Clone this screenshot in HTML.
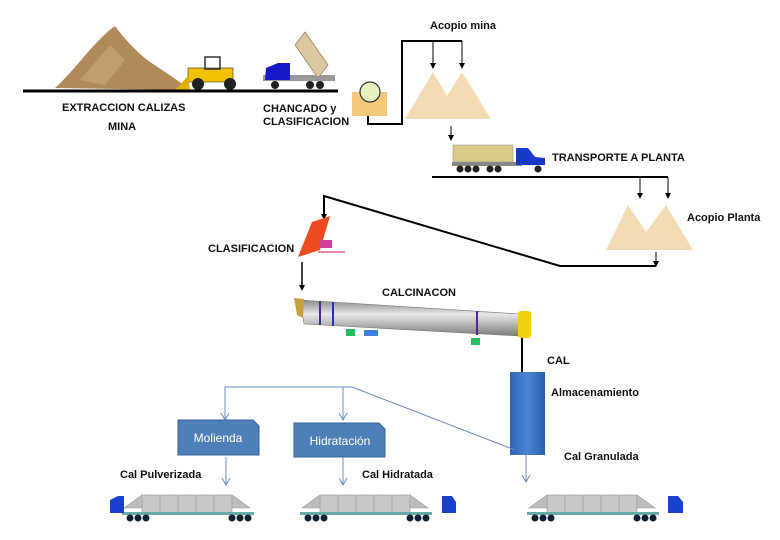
<!DOCTYPE html>
<html><head><meta charset="utf-8"><style>
html,body{margin:0;padding:0;background:#fff;}
svg{display:block;}
text{font-family:"Liberation Sans",Arial,sans-serif;font-weight:bold;font-size:11px;fill:#111;}
</style></head><body>
<svg width="780" height="540" viewBox="0 0 780 540" xmlns="http://www.w3.org/2000/svg">
<defs>
<linearGradient id="kiln" x1="0" y1="0" x2="0" y2="1"><stop offset="0" stop-color="#8a8a8a"/><stop offset="0.4" stop-color="#e8e8e8"/><stop offset="1" stop-color="#7a7a7a"/></linearGradient>
<linearGradient id="tank" x1="0" y1="0" x2="1" y2="0"><stop offset="0" stop-color="#2c64b8"/><stop offset="0.5" stop-color="#4a86d4"/><stop offset="1" stop-color="#2a5ea8"/></linearGradient>
<g id="tanker">
<rect x="20" y="5" width="90" height="18" fill="#c8c8c8" stroke="#999" stroke-width="0.6"/>
<path d="M20,5 L2,18 L20,18Z M110,5 L128,18 L110,18Z" fill="#bdbdbd" stroke="#999" stroke-width="0.6"/>
<line x1="38" y1="5" x2="38" y2="23" stroke="#aaa"/><line x1="56" y1="5" x2="56" y2="23" stroke="#aaa"/><line x1="74" y1="5" x2="74" y2="23" stroke="#aaa"/><line x1="92" y1="5" x2="92" y2="23" stroke="#aaa"/>
<rect x="0" y="22" width="132" height="3" fill="#6aa"/>
<circle cx="8" cy="28" r="3.5" fill="#123"/><circle cx="16" cy="28" r="3.5" fill="#123"/><circle cx="24" cy="28" r="3.5" fill="#123"/>
<circle cx="110" cy="28" r="3.5" fill="#123"/><circle cx="118" cy="28" r="3.5" fill="#123"/><circle cx="126" cy="28" r="3.5" fill="#123"/>
</g>
</defs>

<!-- Mine pile and ground -->
<path d="M55,88 C75,70 95,40 115,26 C125,40 140,55 150,62 C165,72 178,80 190,90 Z" fill="#b08a5a"/>
<path d="M80,80 L110,45 L125,60 L105,85Z" fill="#c8a678" opacity="0.7"/>
<!-- loader -->
<rect x="188" y="68" width="45" height="14" fill="#f2c200" stroke="#333" stroke-width="0.6"/>
<rect x="205" y="57" width="15" height="12" fill="none" stroke="#333" stroke-width="1.5"/>
<circle cx="198" cy="84" r="6" fill="#222"/><circle cx="230" cy="84" r="6" fill="#222"/>
<path d="M175,90 L188,76 L190,90Z" fill="#e0b000"/>
<line x1="23" y1="91" x2="338" y2="91" stroke="#000" stroke-width="3"/>
<!-- dump truck -->
<rect x="263" y="75" width="72" height="6" fill="#999"/>
<path d="M265,80 L266,68 L278,63 L290,63 L290,80Z" fill="#1818c8"/>
<path d="M305,32 L328,65 L318,78 L295,45Z" fill="#dbc8a0" stroke="#a08060" stroke-width="0.8"/>
<circle cx="275" cy="85" r="4" fill="#222"/><circle cx="310" cy="85" r="4" fill="#222"/><circle cx="320" cy="85" r="4" fill="#222"/>
<text x="62" y="111">EXTRACCION CALIZAS</text>
<text x="108" y="130">MINA</text>
<text x="263" y="112">CHANCADO y</text>
<text x="263" y="125">CLASIFICACION</text>
<!-- crusher -->
<rect x="352" y="92" width="35" height="24" fill="#f2c97a"/>
<circle cx="370" cy="92" r="10" fill="#e8f0c0" stroke="#333" stroke-width="1.2"/>
<!-- connector to acopio mina -->
<polyline points="368,116 368,124 402,124 402,41 462,41" fill="none" stroke="#000" stroke-width="2"/>
<g fill="#000">
<line x1="433" y1="41" x2="433" y2="68" stroke="#000"/><path d="M430,63 L433,69 L436,63Z"/>
<line x1="462" y1="41" x2="462" y2="68" stroke="#000"/><path d="M459,63 L462,69 L465,63Z"/>
</g>
<text x="430" y="29">Acopio mina</text>
<path d="M405,119 L433,72 L447,96 L462,72 L491,119Z" fill="#f3dcb4"/>
<line x1="451" y1="126" x2="451" y2="140" stroke="#000"/><path d="M448,135 L451,141 L454,135Z" fill="#000"/>
<!-- truck transport -->
<rect x="453" y="145" width="60" height="17" fill="#d8cc88" stroke="#999" stroke-width="0.6"/>
<rect x="452" y="162" width="70" height="4" fill="#888"/>
<path d="M516,165 L516,148 L528,148 L535,157 L545,158 L545,165Z" fill="#1838c8"/>
<circle cx="460" cy="169" r="3.5" fill="#222"/><circle cx="468" cy="169" r="3.5" fill="#222"/><circle cx="476" cy="169" r="3.5" fill="#222"/><circle cx="490" cy="169" r="3.5" fill="#222"/><circle cx="498" cy="169" r="3.5" fill="#222"/><circle cx="538" cy="169" r="3.5" fill="#222"/>
<text x="552" y="161">TRANSPORTE A PLANTA</text>
<line x1="432" y1="177" x2="668" y2="177" stroke="#000" stroke-width="2"/>
<line x1="640" y1="177" x2="640" y2="198" stroke="#000"/><path d="M637,193 L640,199 L643,193Z" fill="#000"/>
<line x1="668" y1="177" x2="668" y2="198" stroke="#000"/><path d="M665,193 L668,199 L671,193Z" fill="#000"/>
<path d="M606,250 L628,205 L646,232 L666,205 L693,250Z" fill="#f3dcb4"/>
<text x="687" y="221">Acopio Planta</text>
<!-- return line -->
<line x1="656" y1="252" x2="656" y2="265" stroke="#000"/><path d="M653,261 L656,267 L659,261Z" fill="#000"/>
<polyline points="656,266 560,266 324,196 324,217" fill="none" stroke="#000" stroke-width="2"/>
<path d="M321,214 L324,220 L327,214Z" fill="#000"/>
<!-- classifier -->
<path d="M298,257 L312,222 L330,216 L320,250Z" fill="#f04a20"/>
<rect x="320" y="240" width="12" height="8" fill="#d040a0"/>
<line x1="318" y1="252" x2="345" y2="252" stroke="#e06080" stroke-width="1.5"/>
<text x="208" y="252">CLASIFICACION</text>
<line x1="302" y1="262" x2="302" y2="289" stroke="#000" stroke-width="1.5"/><path d="M299,285 L302,291 L305,285Z" fill="#000"/>
<!-- kiln -->
<path d="M300,300 L520,314 L520,336 L304,324Z" fill="url(#kiln)" stroke="#777" stroke-width="0.6"/>
<path d="M294,298 L304,299 L303,318 L297,315Z" fill="#c8a040"/>
<rect x="518" y="311" width="13" height="27" rx="3" fill="#f0d010"/>
<line x1="320" y1="301" x2="320" y2="325" stroke="#4a2a90" stroke-width="2"/>
<line x1="333" y1="302" x2="333" y2="326" stroke="#2030d0" stroke-width="2"/>
<line x1="477" y1="311" x2="477" y2="335" stroke="#4a2a90" stroke-width="2"/>
<rect x="346" y="329" width="9" height="7" fill="#20c060"/>
<rect x="364" y="330" width="14" height="6" fill="#4080e0"/>
<rect x="471" y="338" width="9" height="7" fill="#20c060"/>
<text x="382" y="296">CALCINACON</text>
<line x1="522" y1="338" x2="522" y2="372" stroke="#000" stroke-width="2"/>
<text x="547" y="364">CAL</text>
<rect x="510" y="372" width="35" height="83" fill="url(#tank)"/>
<text x="551" y="396">Almacenamiento</text>
<text x="564" y="460">Cal Granulada</text>
<!-- blue lines -->
<g stroke="#6a8cc8" stroke-width="1" fill="none">
<polyline points="225,420 225,387 352,387 515,450"/>
<line x1="343" y1="387" x2="343" y2="420"/>
<polyline points="221,413 225,420 229,413"/>
<polyline points="339,413 343,420 347,413"/>
<line x1="226" y1="457" x2="226" y2="485"/><polyline points="222,478 226,485 230,478"/>
<line x1="343" y1="457" x2="343" y2="485"/><polyline points="339,478 343,485 347,478"/>
<line x1="526" y1="455" x2="526" y2="482"/><polyline points="522,475 526,482 530,475"/>
</g>
<path d="M178,420 L253,420 L259,426 L259,455 L178,455Z" fill="#4f7fb8" stroke="#3a6298"/>
<text x="218" y="442" text-anchor="middle" style="font-weight:normal;font-size:12px;fill:#fff">Molienda</text>
<path d="M294,423 L379,423 L385,429 L385,457 L294,457Z" fill="#4f7fb8" stroke="#3a6298"/>
<text x="340" y="445" text-anchor="middle" style="font-weight:normal;font-size:12px;fill:#fff">Hidratación</text>
<text x="120" y="478">Cal Pulverizada</text>
<text x="362" y="478">Cal Hidratada</text>
<!-- tankers -->
<use href="#tanker" x="122" y="490"/>
<path d="M110,513 L110,500 L118,496 L124,496 L124,513Z" fill="#1a40d0"/>
<use href="#tanker" x="300" y="490"/>
<path d="M442,513 L442,496 L452,496 L456,502 L456,513Z" fill="#1a40d0"/>
<use href="#tanker" x="527" y="490"/>
<path d="M668,513 L668,496 L678,496 L683,502 L683,513Z" fill="#1a40d0"/>
</svg>
</body></html>
